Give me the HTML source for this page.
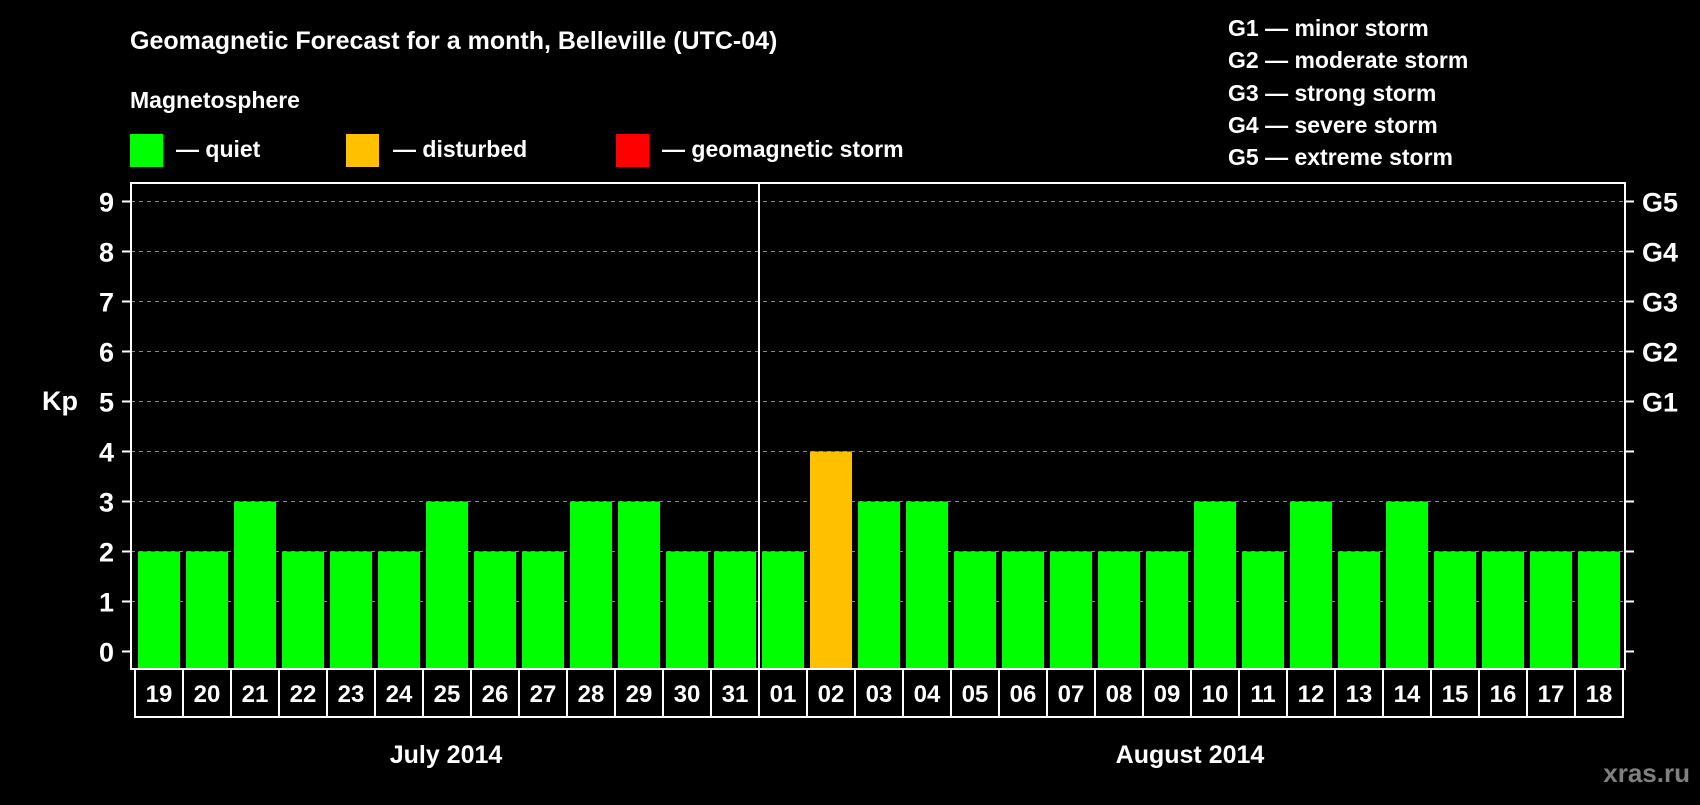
<!DOCTYPE html>
<html><head><meta charset="utf-8"><style>
body{margin:0;background:#000;width:1700px;height:800px;overflow:hidden}
svg text{font-family:"Liberation Sans",Arial,sans-serif;font-weight:bold;fill:#fff}
</style></head><body>
<svg id="chart" width="1700" height="800" xmlns="http://www.w3.org/2000/svg">
<text x="130" y="49" font-size="25">Geomagnetic Forecast for a month, Belleville (UTC-04)</text>
<text x="130" y="108" font-size="23">Magnetosphere</text>
<g><rect x="130" y="134" width="33" height="33" fill="#00ff00"/><text x="176" y="157" font-size="23">— quiet</text></g>
<g><rect x="346" y="134" width="33" height="33" fill="#ffc000"/><text x="393" y="157" font-size="23">— disturbed</text></g>
<g><rect x="616" y="134" width="33" height="33" fill="#ff0000"/><text x="662" y="157" font-size="23">— geomagnetic storm</text></g>
<g font-size="23">
<text x="1228" y="36">G1 — minor storm</text>
<text x="1228" y="68">G2 — moderate storm</text>
<text x="1228" y="101">G3 — strong storm</text>
<text x="1228" y="133">G4 — severe storm</text>
<text x="1228" y="165">G5 — extreme storm</text>
</g>
<text x="42" y="410" font-size="27">Kp</text>
<g id="grid"></g><g id="bars"></g><g id="axes"></g>
<text x="446" y="763" font-size="25" text-anchor="middle">July 2014</text>
<text x="1190" y="763" font-size="25" text-anchor="middle">August 2014</text>
<text x="1690" y="782" font-size="26" text-anchor="end" style="fill:#808080">xras.ru</text>
</svg>
<script>
const days=["19","20","21","22","23","24","25","26","27","28","29","30","31","01","02","03","04","05","06","07","08","09","10","11","12","13","14","15","16","17","18"];
const kp=[2,2,3,2,2,2,3,2,2,3,3,2,2,2,4,3,3,2,2,2,2,2,3,2,3,2,3,2,2,2,2];
const yTicks=[0,1,2,3,4,5,6,7,8,9];
const gLabels=["","","","","","G1","G2","G3","G4","G5"];
const NS="http://www.w3.org/2000/svg";
const L=131,R=1625,T=183,B=669,X0=135,P=48;
const y=v=>651.5-v*50;
const x=i=>X0+i*P;
function mk(tag,at,par){const e=document.createElementNS(NS,tag);for(const k in at)e.setAttribute(k,at[k]);document.getElementById(par).appendChild(e);return e;}
const color=v=>v>=5?"#ff0000":v>=4?"#ffc000":"#00ff00";
yTicks.forEach((t,i)=>{
 if(t>0){const g=mk("line",{x1:L,x2:R,y1:y(t),y2:y(t),stroke:"#888","stroke-dasharray":"4,4","stroke-width":1},"grid");
 
 }
 const tl=mk("line",{x1:122,x2:L,y1:y(t),y2:y(t),stroke:"#fff","stroke-width":2},"axes");
 
 
 const tr=mk("line",{x1:R,x2:1634,y1:y(t),y2:y(t),stroke:"#fff","stroke-width":2},"axes");
 
 
 const lb=mk("text",{x:114,y:y(t)+10,"font-size":27,"text-anchor":"end"},"axes");lb.textContent=t;
 
 
 if(gLabels[i]){const gl=mk("text",{x:1642,y:y(t)+10,"font-size":27},"axes");gl.textContent=gLabels[i];
 
 }
});
kp.forEach((v,i)=>{
 const b=mk("rect",{x:x(i)+3,y:y(v),width:42,height:B-y(v),fill:color(v)},"bars");
 
 
 const c=mk("rect",{x:x(i),y:B,width:P,height:48,fill:"none",stroke:"#fff","stroke-width":2},"axes");
 
 
 const t=mk("text",{x:x(i)+P/2,y:B+33,"font-size":24,"text-anchor":"middle"},"axes");t.textContent=days[i];
 
 
});
const fr=mk("rect",{x:L,y:T,width:R-L,height:B-T,fill:"none",stroke:"#fff","stroke-width":2},"axes");


const mi=days.indexOf("01");
const dv=mk("line",{x1:x(mi),x2:x(mi),y1:T,y2:B,stroke:"#fff","stroke-width":2},"axes");


</script>
</body></html>
